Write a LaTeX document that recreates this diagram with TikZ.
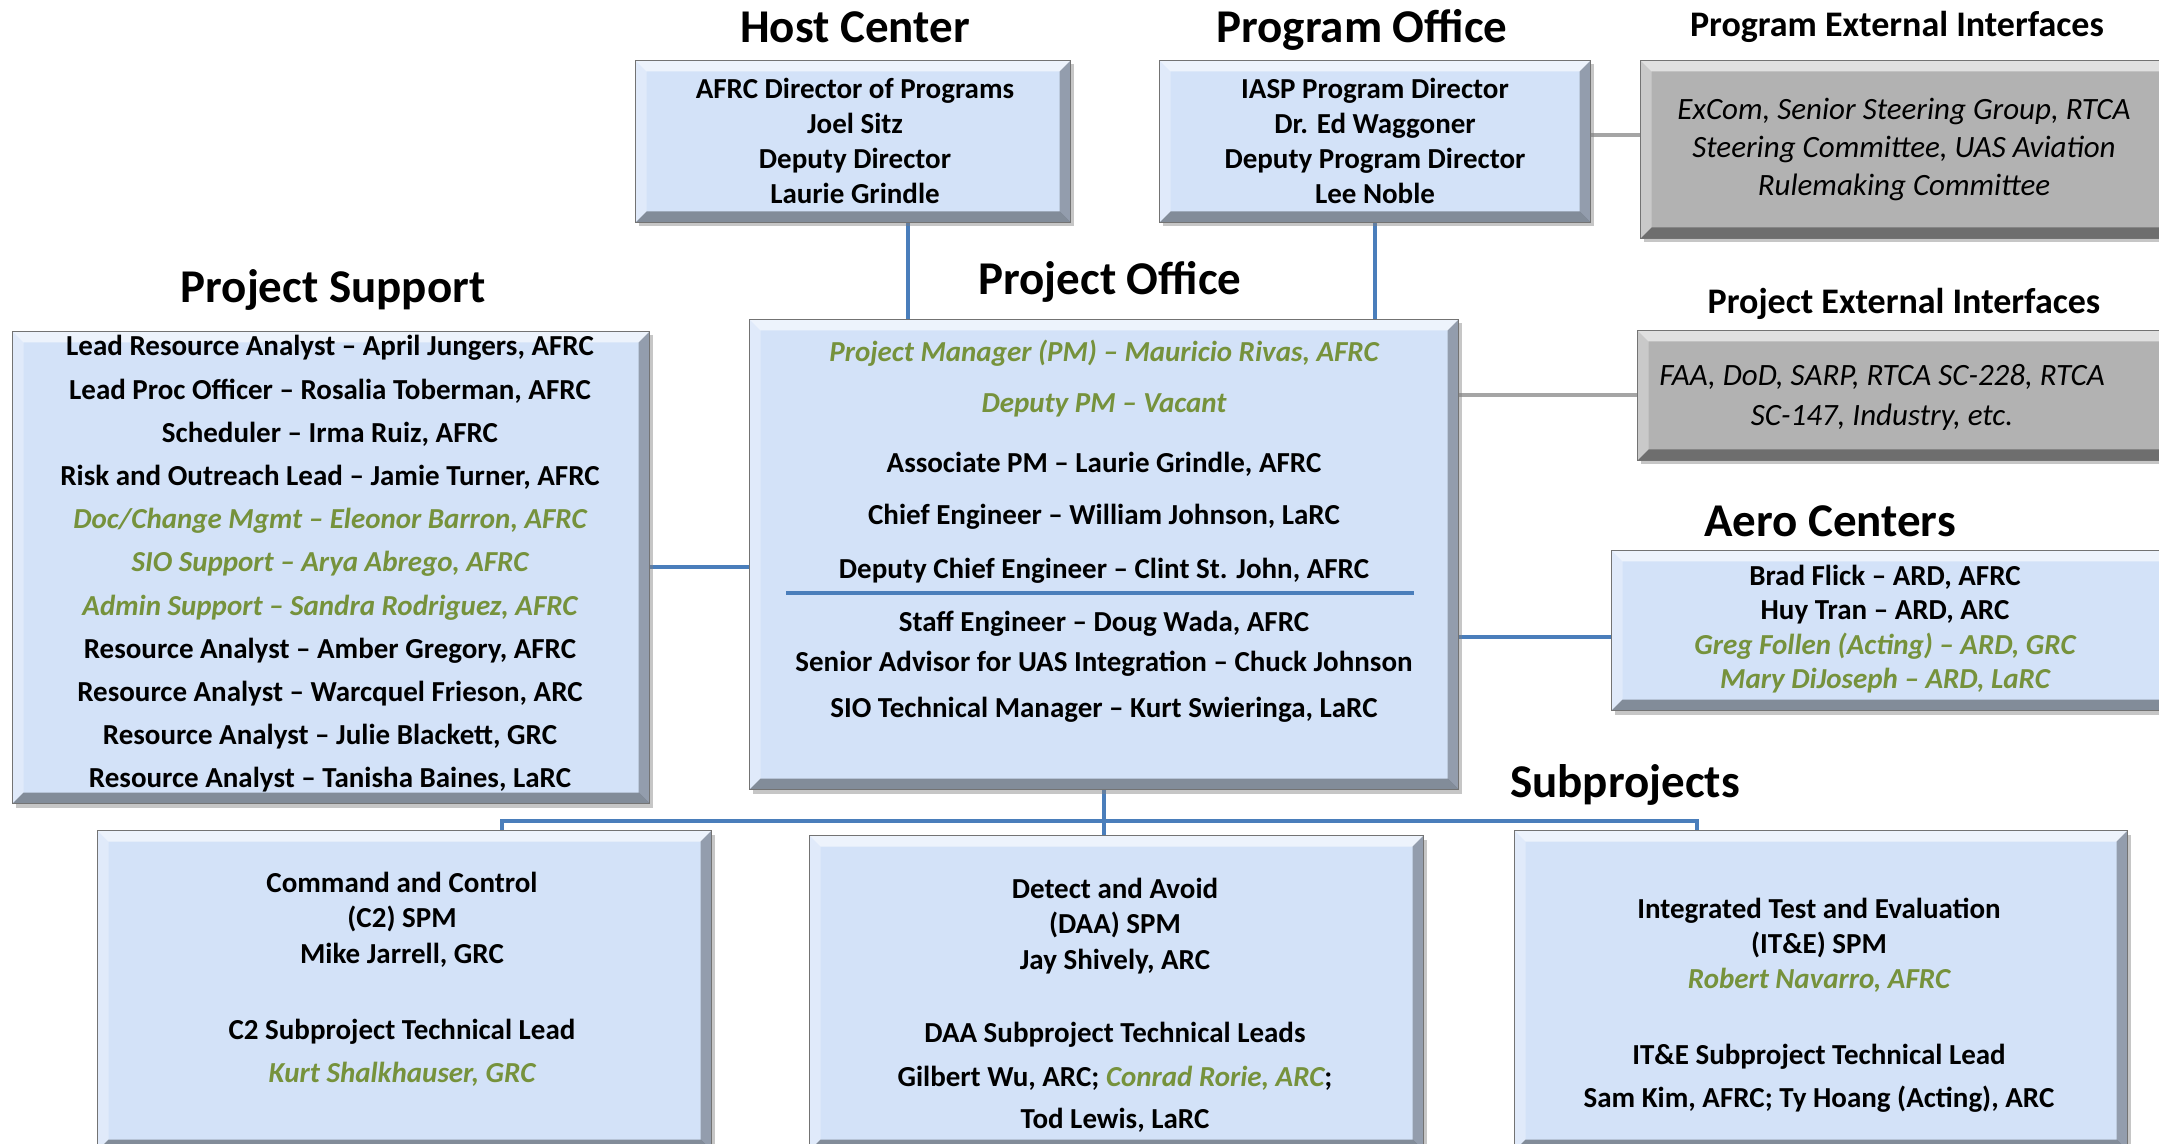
\documentclass[tikz,border=0pt]{standalone}
\usepackage{fontspec}
\setmainfont{Carlito}
\usetikzlibrary{shadows,backgrounds,calc}
\definecolor{boxblue}{RGB}{211,226,248}
\definecolor{boxgray}{RGB}{178,178,178}
\definecolor{cblue}{RGB}{74,126,187}
\definecolor{cgray}{RGB}{165,165,165}
\definecolor{ogreen}{RGB}{118,146,60}
\newcommand\grn[1]{{\color{ogreen}\itshape #1}}
\tikzset{
 bevel/.style={path picture={
   \coordinate (bnw) at (path picture bounding box.north west);
   \coordinate (bse) at (path picture bounding box.south east);
   \coordinate (bne) at (path picture bounding box.north east);
   \coordinate (bsw) at (path picture bounding box.south west);
   \fill[white,opacity=.6] (bnw) -- (bne) -- ($(bne)+(-5.5pt,-5.5pt)$) -- ($(bnw)+(5.5pt,-5.5pt)$) -- cycle;
   \fill[white,opacity=.3] (bnw) -- (bsw) -- ($(bsw)+(5.5pt,5.5pt)$) -- ($(bnw)+(5.5pt,-5.5pt)$) -- cycle;
   \fill[black,opacity=.3] (bne) -- (bse) -- ($(bse)+(-5.5pt,5.5pt)$) -- ($(bne)+(-5.5pt,-5.5pt)$) -- cycle;
   \fill[black,opacity=.38] (bsw) -- (bse) -- ($(bse)+(-5.5pt,5.5pt)$) -- ($(bsw)+(5.5pt,5.5pt)$) -- cycle;
 }},
 box/.style={draw=black!55, line width=0.5pt, fill=boxblue, bevel, anchor=north west, inner sep=0pt,
   drop shadow={opacity=0.45, shadow xshift=1.5pt, shadow yshift=-2pt}},
 gbox/.style={box, fill=boxgray},
 ttl/.style={anchor=base, inner sep=0pt, font=\bfseries\fontsize{23.5pt}{28pt}\selectfont},
 sttl/.style={anchor=base, inner sep=0pt, font=\bfseries\fontsize{18pt}{22pt}\selectfont},
 txt/.style={align=center, inner sep=0pt, font=\bfseries\fontsize{14.5pt}{#1}\selectfont},
 itxt/.style={align=center, inner sep=0pt, font=\itshape\fontsize{15.5pt}{#1}\selectfont},
 bconn/.style={draw=cblue, line width=2pt},
 gconn/.style={draw=cgray, line width=2pt},
}
\begin{document}
\begin{tikzpicture}[x=0.5pt,y=-0.5pt]
\useasboundingbox (0,0) rectangle (2159,1144);
% titles
\node[ttl] (tHost) at (855,43) {Host Center};
\node[ttl] (tProg) at (1362,43) {Program Office};
\node[sttl] (tPext) at (1897,37) {Program External Interfaces};
\node[ttl] (tPS) at (333,303) {Project Support};
\node[ttl] (tPO) at (1110,295) {Project Office};
\node[sttl] (tPjext) at (1904,314) {Project External Interfaces};
\node[ttl] (tAero) at (1830,537) {Aero Centers};
\node[ttl] (tSub) at (1625,797) {Subprojects};
% boxes
\node[box, minimum width=217.5pt, minimum height=81pt] (host) at (635,60) {};
\node[box, minimum width=215.5pt, minimum height=81pt] (prog) at (1159,60) {};
\node[gbox, minimum width=269.5pt, minimum height=89pt] (pext) at (1640,60) {};
\node[box, minimum width=318.5pt, minimum height=236pt] (ps) at (12,331) {};
\node[box, minimum width=354.5pt, minimum height=235pt] (po) at (749,319) {};
\node[gbox, minimum width=271.5pt, minimum height=65pt] (pjext) at (1637,330) {};
\node[box, minimum width=284.5pt, minimum height=80pt] (aero) at (1611,550) {};
\node[box, minimum width=307pt, minimum height=160pt] (c2) at (97,830) {};
\node[box, minimum width=307pt, minimum height=157.5pt] (daa) at (809,835) {};
\node[box, minimum width=306.5pt, minimum height=160pt] (ite) at (1514,830) {};
% divider inside project office
\draw[bconn] (786,593) -- (1414,593);
% texts
\node[txt=17.5pt] (hostT) at (855,141) {AFRC Director of Programs\\Joel Sitz\\Deputy Director\\Laurie Grindle};
\node[txt=17.5pt] (progT) at (1375,141) {IASP Program Director\\Dr. Ed Waggoner\\Deputy Program Director\\Lee Noble};
\node[itxt=19pt] (pextT) at (1904,149) {ExCom, Senior Steering Group, RTCA\\Steering Committee, UAS Aviation\\Rulemaking Committee};
\node[txt=21.6pt] (psT) at (330,564) {Lead Resource Analyst – April Jungers, AFRC\\
Lead Proc Officer – Rosalia Toberman, AFRC\\
Scheduler – Irma Ruiz, AFRC\\
Risk and Outreach Lead – Jamie Turner, AFRC\\
\grn{Doc/Change Mgmt – Eleonor Barron, AFRC}\\
\grn{SIO Support – Arya Abrego, AFRC}\\
\grn{Admin Support – Sandra Rodriguez, AFRC}\\
Resource Analyst – Amber Gregory, AFRC\\
Resource Analyst – Warcquel Frieson, ARC\\
Resource Analyst – Julie Blackett, GRC\\
Resource Analyst – Tanisha Baines, LaRC};
\node[txt=20pt] (poT) at (1104,531) {\grn{Project Manager (PM) – Mauricio Rivas, AFRC}\\[5.5pt]
\grn{Deputy PM – Vacant}\\[10pt]
Associate PM – Laurie Grindle, AFRC\\[6pt]
Chief Engineer – William Johnson, LaRC\\[7pt]
Deputy Chief Engineer – Clint St. John, AFRC\\[6.5pt]
Staff Engineer – Doug Wada, AFRC\\
Senior Advisor for UAS Integration – Chuck Johnson\\[3pt]
SIO Technical Manager – Kurt Swieringa, LaRC};
\node[itxt=20pt] (pjextT) at (1882,397) {FAA, DoD, SARP, RTCA SC-228, RTCA\\SC-147, Industry, etc.};
\node[txt=17.2pt] (aeroT) at (1885,629) {Brad Flick – ARD, AFRC\\Huy Tran – ARD, ARC\\\grn{Greg Follen (Acting) – ARD, GRC}\\\grn{Mary DiJoseph – ARD, LaRC}};
\node[txt=17.5pt] (c2T) at (402,979) {Command and Control\\(C2) SPM\\[0.5pt]Mike Jarrell, GRC\\[20.5pt]C2 Subproject Technical Lead\\[4pt]\grn{Kurt Shalkhauser, GRC}};
\node[txt=17.5pt] (daaT) at (1115,1005) {Detect and Avoid\\(DAA) SPM\\[0.5pt]Jay Shively, ARC\\[19pt]DAA Subproject Technical Leads\\[4.5pt]Gilbert Wu, ARC; \grn{Conrad Rorie, ARC};\\[3.5pt]Tod Lewis, LaRC};
\node[txt=17.5pt] (iteT) at (1819,1005) {Integrated Test and Evaluation\\(IT\&E) SPM\\\grn{Robert Navarro, AFRC}\\[20.5pt]IT\&E Subproject Technical Lead\\[4pt]Sam Kim, AFRC; Ty Hoang (Acting), ARC};
% connectors
\begin{scope}[on background layer]
 \draw[bconn] ([xshift=27.5pt]host.south) -- ([xshift=27.5pt]host.south |- po.north);
 \draw[bconn] (prog.south) -- (prog.south |- po.north);
 \draw[gconn] ([yshift=3pt]prog.east) -- ([yshift=3pt]prog.east -| pext.west);
 \draw[gconn] (pjext.west -| po.east) -- (pjext.west);
 \draw[bconn] (ps.east) -- (ps.east -| po.west);
 \draw[bconn] ([yshift=-3pt]aero.west -| po.east) -- ([yshift=-3pt]aero.west);
 \coordinate (busL) at (502,821);
 \coordinate (busR) at (1697,821);
 \draw[bconn] (po.south) -- (po.south |- daa.north);
 \draw[bconn] (busL |- c2.north) -- (busL) -- (busR) -- (busR |- ite.north);
\end{scope}
\end{tikzpicture}
\end{document}
